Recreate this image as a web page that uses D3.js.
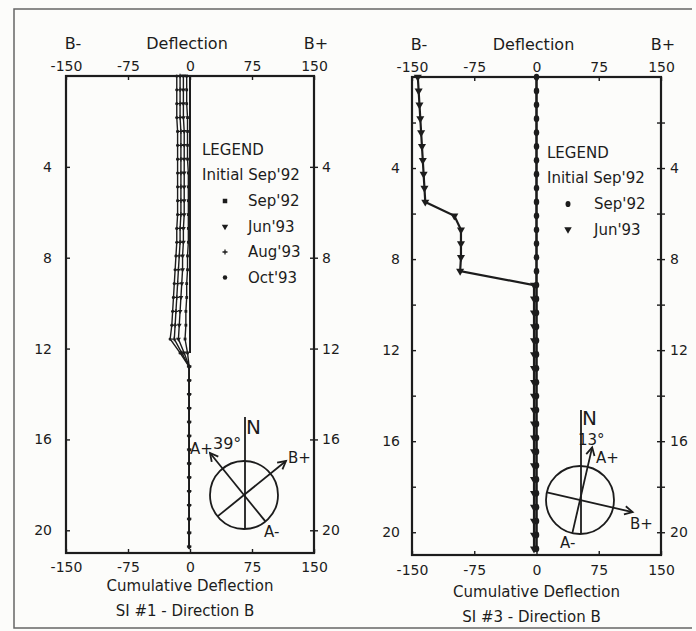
<!DOCTYPE html>
<html>
<head>
<meta charset="utf-8">
<script src="https://cdn.jsdelivr.net/npm/d3@7"></script>
<style>
  body { margin: 0; background: #fcfcfa; }
  text { font-family: "DejaVu Sans", sans-serif; fill: #1c1c1c; }
</style>
</head>
<body>
<svg width="696" height="631"></svg>
<script>
// depth of each reading (m), one reading every 2 ft
const depths = [0, 0.61, 1.22, 1.83, 2.44, 3.05, 3.66, 4.27, 4.88, 5.49, 6.10, 6.71, 7.32, 7.92, 8.53,
  9.14, 9.75, 10.36, 10.97, 11.58, 12.19, 12.80, 13.41, 14.02, 14.63, 15.24, 15.85, 16.46, 17.07,
  17.68, 18.29, 18.90, 19.51, 20.12, 20.73]

const xTicks = [-150, -75, 0, 75, 150]

// SI #1
const si1Sep92 = [-4, -4, -4, -3, -3, -3, -3, -2, -2, -2, -2, -2, -2, -3, -3, -4, -4, -5, -5, -6, -3,
  -1, -1, -1, -1, -1, -1, -1, -1, -1, -1, -1, -1, -1, -1]
const si1Jun93 = [-8, -8, -8, -8, -7, -7, -7, -7, -7, -7, -7, -8, -8, -9, -9, -10, -11, -12, -13, -14, -7,
  -1, -1, -1, -1, -1, -1, -1, -1, -1, -1, -1, -1, -1, -1]
const si1Aug93 = [-12, -12, -12, -12, -11, -11, -11, -11, -11, -11, -11, -12, -12, -13, -14, -15, -16, -17, -18, -19, -10,
  -1, -1, -1, -1, -1, -1, -1, -1, -1, -1, -1, -1, -1, -1]
const si1Oct93 = [-16, -16, -16, -16, -15, -15, -15, -15, -15, -15, -15, -16, -16, -17, -18, -19, -20, -21, -22, -24, -12,
  -1, -1, -1, -1, -1, -1, -1, -1, -1, -1, -1, -1, -1, -1]

// SI #3
const si3Sep92 = [0, 0, 0, 0, 0, 0, 0, 0, 0, 0, 0, 0, 0, 0, 0, 0, 0, 0, 0, 0, 0,
  0, 0, 0, 0, 0, 0, 0, 0, 0, 0, 0, 0, 0, 0]
const si3Jun93 = [-143, -142, -141, -140, -139, -138, -137, -136, -135, -134, -99, -91, -91, -91, -92, -3,
  -3, -3, -3, -3, -3, -3, -3, -3, -3, -3, -3, -3, -3, -3, -3, -3, -3, -3, -3]

const ink = '#1c1c1c'
const svg = d3.select('svg')

// page border
svg.append('path')
  .attr('d', 'M692,9 H14 V628 H692')
  .attr('fill', 'none').attr('stroke', '#666').attr('stroke-width', 1.5)

const markers = {
  square: (g, s) => g.append('path').attr('d', d3.symbol(d3.symbolSquare, s * s)()).attr('fill', ink),
  tri: (g, s) => g.append('path').attr('d', d3.symbol(d3.symbolTriangle, s * s * 0.5)()).attr('transform', 'rotate(180)').attr('fill', ink),
  plus: (g, s) => g.append('path').attr('d', `M${-s / 2},0H${s / 2}M0,${-s / 2}V${s / 2}`).attr('stroke', ink).attr('stroke-width', 1.3),
  dot: (g, s) => g.append('circle').attr('r', s / 2).attr('fill', ink),
  blob: (g, s) => g.append('ellipse').attr('rx', s / 2).attr('ry', s / 2 + 0.6).attr('fill', ink)
}

function panel(o) {
  const x = d3.scaleLinear().domain([-150, 150]).range([o.x0, o.x1])
  const y = d3.scaleLinear().domain([0, 21]).range([o.y0, o.y1])
  const g = svg.append('g')

  const styleAxis = a => {
    a.select('.domain').remove()
    a.selectAll('line').attr('stroke', ink).attr('stroke-width', 1.4)
    a.selectAll('text').attr('font-family', '"DejaVu Sans", sans-serif').attr('font-size', 14).attr('fill', ink)
  }

  g.append('g').attr('transform', `translate(0,${o.y0})`)
    .call(d3.axisTop(x).tickValues(xTicks).tickFormat(d => String(d)).tickSizeInner(-4).tickSizeOuter(0).tickPadding(5))
    .call(styleAxis)
  g.append('g').attr('transform', `translate(0,${o.y1})`)
    .call(d3.axisBottom(x).tickValues(xTicks).tickFormat(d => String(d)).tickSizeInner(-4).tickSizeOuter(0).tickPadding(o.botPad))
    .call(styleAxis)
  g.append('g').attr('transform', `translate(${o.x0},0)`)
    .call(d3.axisLeft(y).tickValues(o.yTicks).tickFormat(d => d % 4 === 0 ? d : '').tickSizeInner(-4).tickSizeOuter(0).tickPadding(o.leftPad))
    .call(styleAxis)
  g.append('g').attr('transform', `translate(${o.x1},0)`)
    .call(d3.axisRight(y).tickValues(o.yTicks).tickFormat(d => d % 4 === 0 ? d : '').tickSizeInner(-4).tickSizeOuter(0).tickPadding(o.rightPad))
    .call(g2 => g2.selectAll('.tick line').attr('x1', 4).attr('x2', -4))
    .call(styleAxis)

  // headings
  g.append('text').attr('x', x(-150) + 7).attr('y', o.y0 - 27).attr('text-anchor', 'middle').attr('font-size', 16).text('B-')
  g.append('text').attr('x', x(0) - 3).attr('y', o.y0 - 27).attr('text-anchor', 'middle').attr('font-size', 16).text('Deflection')
  g.append('text').attr('x', x(150) + 2).attr('y', o.y0 - 27).attr('text-anchor', 'middle').attr('font-size', 16).text('B+')
  g.append('text').attr('x', x(0)).attr('y', o.y1 + o.capDy).attr('text-anchor', 'middle').attr('font-size', 15).text('Cumulative Deflection')
  g.append('text').attr('x', x(0) - 5).attr('y', o.y1 + o.capDy + 25).attr('text-anchor', 'middle').attr('font-size', 15).text(o.title)

  // initial reading line
  if (o.zeroLine) {
    g.append('line').attr('x1', x(0)).attr('x2', x(0)).attr('y1', y(0)).attr('y2', y(12.2))
      .attr('stroke', ink).attr('stroke-width', 2)
  }

  const line = d3.line().x(d => x(d.v)).y(d => y(d.d))
  o.series.forEach(s => {
    const pts = s.values.map((v, i) => ({ v, d: depths[i] }))
    g.append('path').datum(pts).attr('d', line)
      .attr('fill', 'none').attr('stroke', ink).attr('stroke-width', s.width)
    g.selectAll(null).data(pts).join('g')
      .attr('transform', d => `translate(${x(d.v)},${y(d.d)})`)
      .each(function () { markers[s.marker](d3.select(this), s.size) })
  })

  // frame
  g.append('rect').attr('x', o.x0).attr('y', o.y0).attr('width', o.x1 - o.x0).attr('height', o.y1 - o.y0)
    .attr('fill', 'none').attr('stroke', ink).attr('stroke-width', 2.2)

  // legend
  const lg = g.append('g').attr('transform', `translate(${o.legX},${o.legY})`).attr('font-size', 15)
  lg.append('text').attr('x', 0).attr('y', 0).text('LEGEND')
  lg.append('text').attr('x', 0).attr('y', 25).text("Initial Sep'92")
  o.series.forEach((s, i) => {
    const row = lg.append('g').attr('transform', `translate(0,${51 + i * 25.5})`)
    const m = row.append('g').attr('transform', `translate(${o.legMx},-5)`)
    markers[s.marker](m, s.legSize)
    row.append('text').attr('x', o.legTx).attr('y', 0).text(s.name)
  })

  return { x, y }
}

panel({
  x0: 66, x1: 314, y0: 76, y1: 553,
  yTicks: [4, 8, 12, 16, 20], leftPad: 14, rightPad: 8, botPad: 9, capDy: 38,
  title: 'SI #1 - Direction B', zeroLine: true,
  legX: 202, legY: 155, legMx: 23, legTx: 46,
  series: [
    { name: "Sep'92", values: si1Sep92, marker: 'square', size: 2.8, legSize: 4.5, width: 1.4 },
    { name: "Jun'93", values: si1Jun93, marker: 'tri', size: 4.5, legSize: 6, width: 1.4 },
    { name: "Aug'93", values: si1Aug93, marker: 'plus', size: 4.5, legSize: 5, width: 1.4 },
    { name: "Oct'93", values: si1Oct93, marker: 'dot', size: 3.2, legSize: 4.5, width: 1.4 }
  ]
})

panel({
  x0: 412, x1: 661, y0: 77, y1: 555,
  yTicks: [2, 4, 6, 8, 10, 12, 14, 16, 18, 20], leftPad: 12, rightPad: 9, botPad: 10, capDy: 42,
  title: 'SI #3 - Direction B', zeroLine: false,
  legX: 547, legY: 158, legMx: 21, legTx: 47,
  series: [
    { name: "Sep'92", values: si3Sep92, marker: 'blob', size: 5.5, legSize: 5, width: 2.6 },
    { name: "Jun'93", values: si3Jun93, marker: 'tri', size: 7.5, legSize: 7, width: 2.2 }
  ]
})

// orientation sketches
function compass(cx, cy, r, aAz, bAz, nTop, labels) {
  const g = svg.append('g').attr('stroke', ink).attr('stroke-width', 1.8).attr('fill', 'none')
  const pt = (az, len) => [cx + len * Math.sin(az * Math.PI / 180), cy - len * Math.cos(az * Math.PI / 180)]
  g.append('circle').attr('cx', cx).attr('cy', cy).attr('r', r)
  g.append('line').attr('x1', cx + 1).attr('y1', cy + r).attr('x2', cx + 1).attr('y2', cy - nTop)
  const axisLine = az => {
    const a = pt(az + 180, r), b = pt(az, 54)
    g.append('line').attr('x1', a[0]).attr('y1', a[1]).attr('x2', b[0]).attr('y2', b[1])
    const h1 = pt(az + 180 - 28, 9), h2 = pt(az + 180 + 28, 9)
    g.append('path').attr('d', `M${b[0] + h1[0] - cx},${b[1] + h1[1] - cy}L${b[0]},${b[1]}L${b[0] + h2[0] - cx},${b[1] + h2[1] - cy}`)
  }
  axisLine(aAz)
  axisLine(bAz)
  labels.forEach(l => svg.append('text').attr('x', l[0]).attr('y', l[1]).attr('font-size', l[3]).text(l[2]))
}

compass(244, 495, 34, -39, 51, 78, [
  [246, 434, 'N', 20], [190, 454, 'A+', 15], [213, 449, '39°', 16], [288, 463, 'B+', 15], [264, 537, 'A-', 15]
])
compass(580, 500, 34, 13, 103, 90, [
  [582, 425, 'N', 20], [578, 445, '13°', 15], [596, 463, 'A+', 15], [630, 529, 'B+', 15], [560, 548, 'A-', 15]
])
</script>
</body>
</html>
